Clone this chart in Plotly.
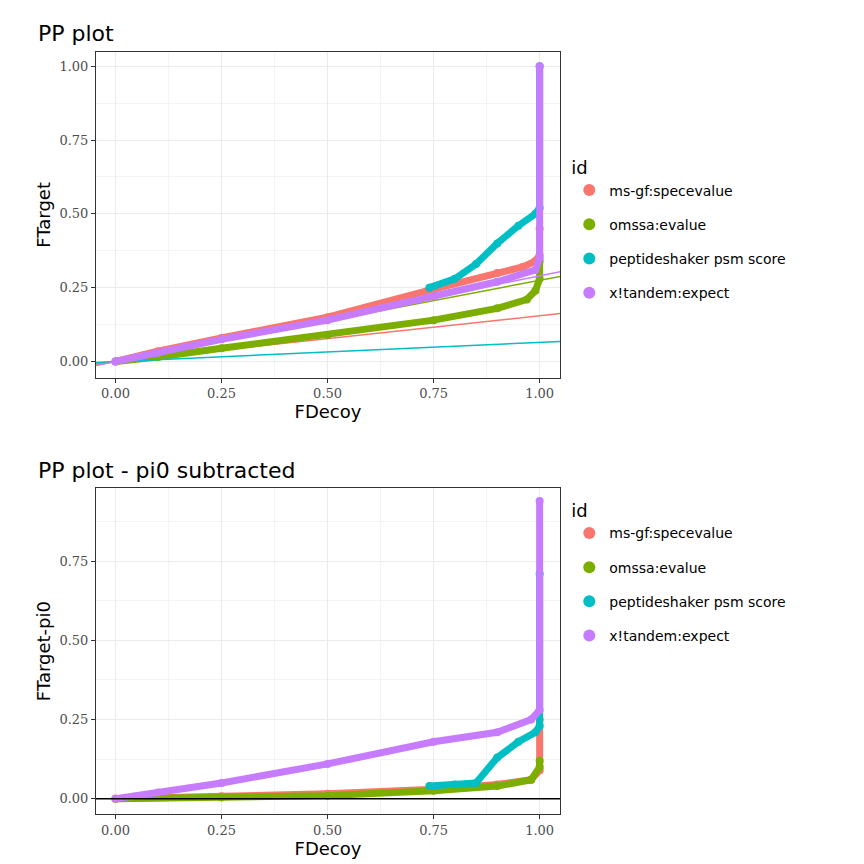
import plotly.graph_objects as go
from plotly.subplots import make_subplots

NAMES = ["ms-gf:specevalue", "omssa:evalue", "peptideshaker psm score", "x!tandem:expect"]
COLORS = ["#F8766D", "#7CAE00", "#00BFC4", "#C77CFF"]

# top panel: FDecoy vs FTarget
TOP_X = [
    [0, 0.1, 0.25, 0.5, 0.75, 0.9, 0.96, 0.99, 1.0, 1.0],
    [0, 0.1, 0.25, 0.5, 0.75, 0.9, 0.97, 0.99, 1.0, 1.0],
    [0.74, 0.8, 0.85, 0.9, 0.95, 0.99, 1.0, 1.0],
    [0, 0.1, 0.25, 0.5, 0.75, 0.9, 0.99, 1.0, 1.0],
]
TOP_Y = [
    [0, 0.035, 0.08, 0.15, 0.245, 0.30, 0.32, 0.34, 0.36, 0.45],
    [0, 0.015, 0.045, 0.09, 0.14, 0.18, 0.21, 0.24, 0.28, 0.34],
    [0.25, 0.28, 0.33, 0.40, 0.46, 0.50, 0.52, 1.0],
    [0, 0.03, 0.075, 0.14, 0.22, 0.27, 0.31, 0.35, 1.0],
]
# fitted reference lines: slope per series
TOP_SLOPE = [0.155, 0.275, 0.065, 0.29]

# bottom panel: pi0 subtracted
BOT_X = [
    [0, 0.25, 0.5, 0.75, 0.9, 0.98, 1.0, 1.0],
    [0, 0.25, 0.5, 0.75, 0.9, 0.98, 1.0, 1.0],
    [0.74, 0.8, 0.85, 0.9, 0.95, 0.99, 1.0, 1.0],
    [0, 0.1, 0.25, 0.5, 0.75, 0.9, 0.98, 1.0, 1.0],
]
BOT_Y = [
    [0, 0.008, 0.016, 0.03, 0.045, 0.06, 0.09, 0.25],
    [0, 0.004, 0.01, 0.025, 0.04, 0.06, 0.10, 0.12],
    [0.04, 0.045, 0.05, 0.13, 0.18, 0.21, 0.23, 0.71],
    [0, 0.02, 0.05, 0.11, 0.18, 0.21, 0.25, 0.28, 0.94],
]

fig = make_subplots(rows=2, cols=1, vertical_spacing=0.145)

for i, name in enumerate(NAMES):
    fig.add_trace(go.Scatter(
        x=TOP_X[i], y=TOP_Y[i], mode="lines+markers", showlegend=False,
        line=dict(color=COLORS[i], width=7), marker=dict(color=COLORS[i], size=8),
    ), row=1, col=1)
    fig.add_trace(go.Scatter(
        x=[-0.05, 1.05], y=[-0.05 * TOP_SLOPE[i], 1.05 * TOP_SLOPE[i]], mode="lines",
        line=dict(color=COLORS[i], width=1.5), showlegend=False,
    ), row=1, col=1)
    # legend entry (dot only)
    fig.add_trace(go.Scatter(x=[None], y=[None], mode="markers", name=name,
                             marker=dict(color=COLORS[i], size=8),
                             legend="legend", legendgroup="a%d" % i), row=1, col=1)
for i, name in enumerate(NAMES):
    fig.add_trace(go.Scatter(
        x=BOT_X[i], y=BOT_Y[i], mode="lines+markers", showlegend=False,
        line=dict(color=COLORS[i], width=7), marker=dict(color=COLORS[i], size=8),
    ), row=2, col=1)
    fig.add_trace(go.Scatter(x=[None], y=[None], mode="markers", name=name,
                             marker=dict(color=COLORS[i], size=8),
                             legend="legend2", legendgroup="b%d" % i), row=2, col=1)
fig.add_trace(go.Scatter(x=[-0.05, 1.05], y=[0, 0], mode="lines",
                         line=dict(color="black", width=1.5), showlegend=False), row=2, col=1)

ax = dict(showline=True, linecolor="#333", mirror=True, gridcolor="#ebebeb",
          ticks="outside", ticklen=4, tickcolor="#333", zeroline=False,
          tickfont=dict(size=13, color="#4d4d4d", family="DejaVu Serif"),
          tickvals=[0, 0.25, 0.5, 0.75, 1.0], ticktext=["0.00", "0.25", "0.50", "0.75", "1.00"],
          minor=dict(showgrid=True, gridcolor="#f4f4f4", dtick=0.125))
fig.update_xaxes(**ax, range=[-0.046, 1.048])
fig.update_xaxes(title=dict(text="FDecoy", font=dict(size=18), standoff=4))
fig.update_yaxes(**ax)
fig.update_yaxes(range=[-0.055, 1.048], title=dict(text="FTarget", font=dict(size=18)), row=1, col=1)
fig.update_yaxes(range=[-0.048, 0.98], title=dict(text="FTarget-pi0", font=dict(size=18)), row=2, col=1)

leg = dict(font=dict(size=14), title=dict(text="id", font=dict(size=18)),
           bgcolor="rgba(0,0,0,0)", xanchor="left", x=1.02, tracegroupgap=13,
           itemsizing="constant")
fig.update_layout(
    width=864, height=864, template="none", plot_bgcolor="white",
    font=dict(family="DejaVu Sans", color="black"),
    margin=dict(l=88, r=312, t=44, b=58),
    legend=dict(**leg, y=0.87, yanchor="top"),
    legend2=dict(**leg, y=0.42, yanchor="top"),
    annotations=[
        dict(text="PP plot", x=-0.13, xref="paper", y=1.0, yref="paper", yanchor="bottom",
             xanchor="left", showarrow=False, font=dict(size=22), yshift=4),
        dict(text="PP plot - pi0 subtracted", x=-0.13, xref="paper", y=0.427, yref="paper",
             yanchor="bottom", xanchor="left", showarrow=False, font=dict(size=22), yshift=4),
    ],
)
fig.write_html("out.html")
